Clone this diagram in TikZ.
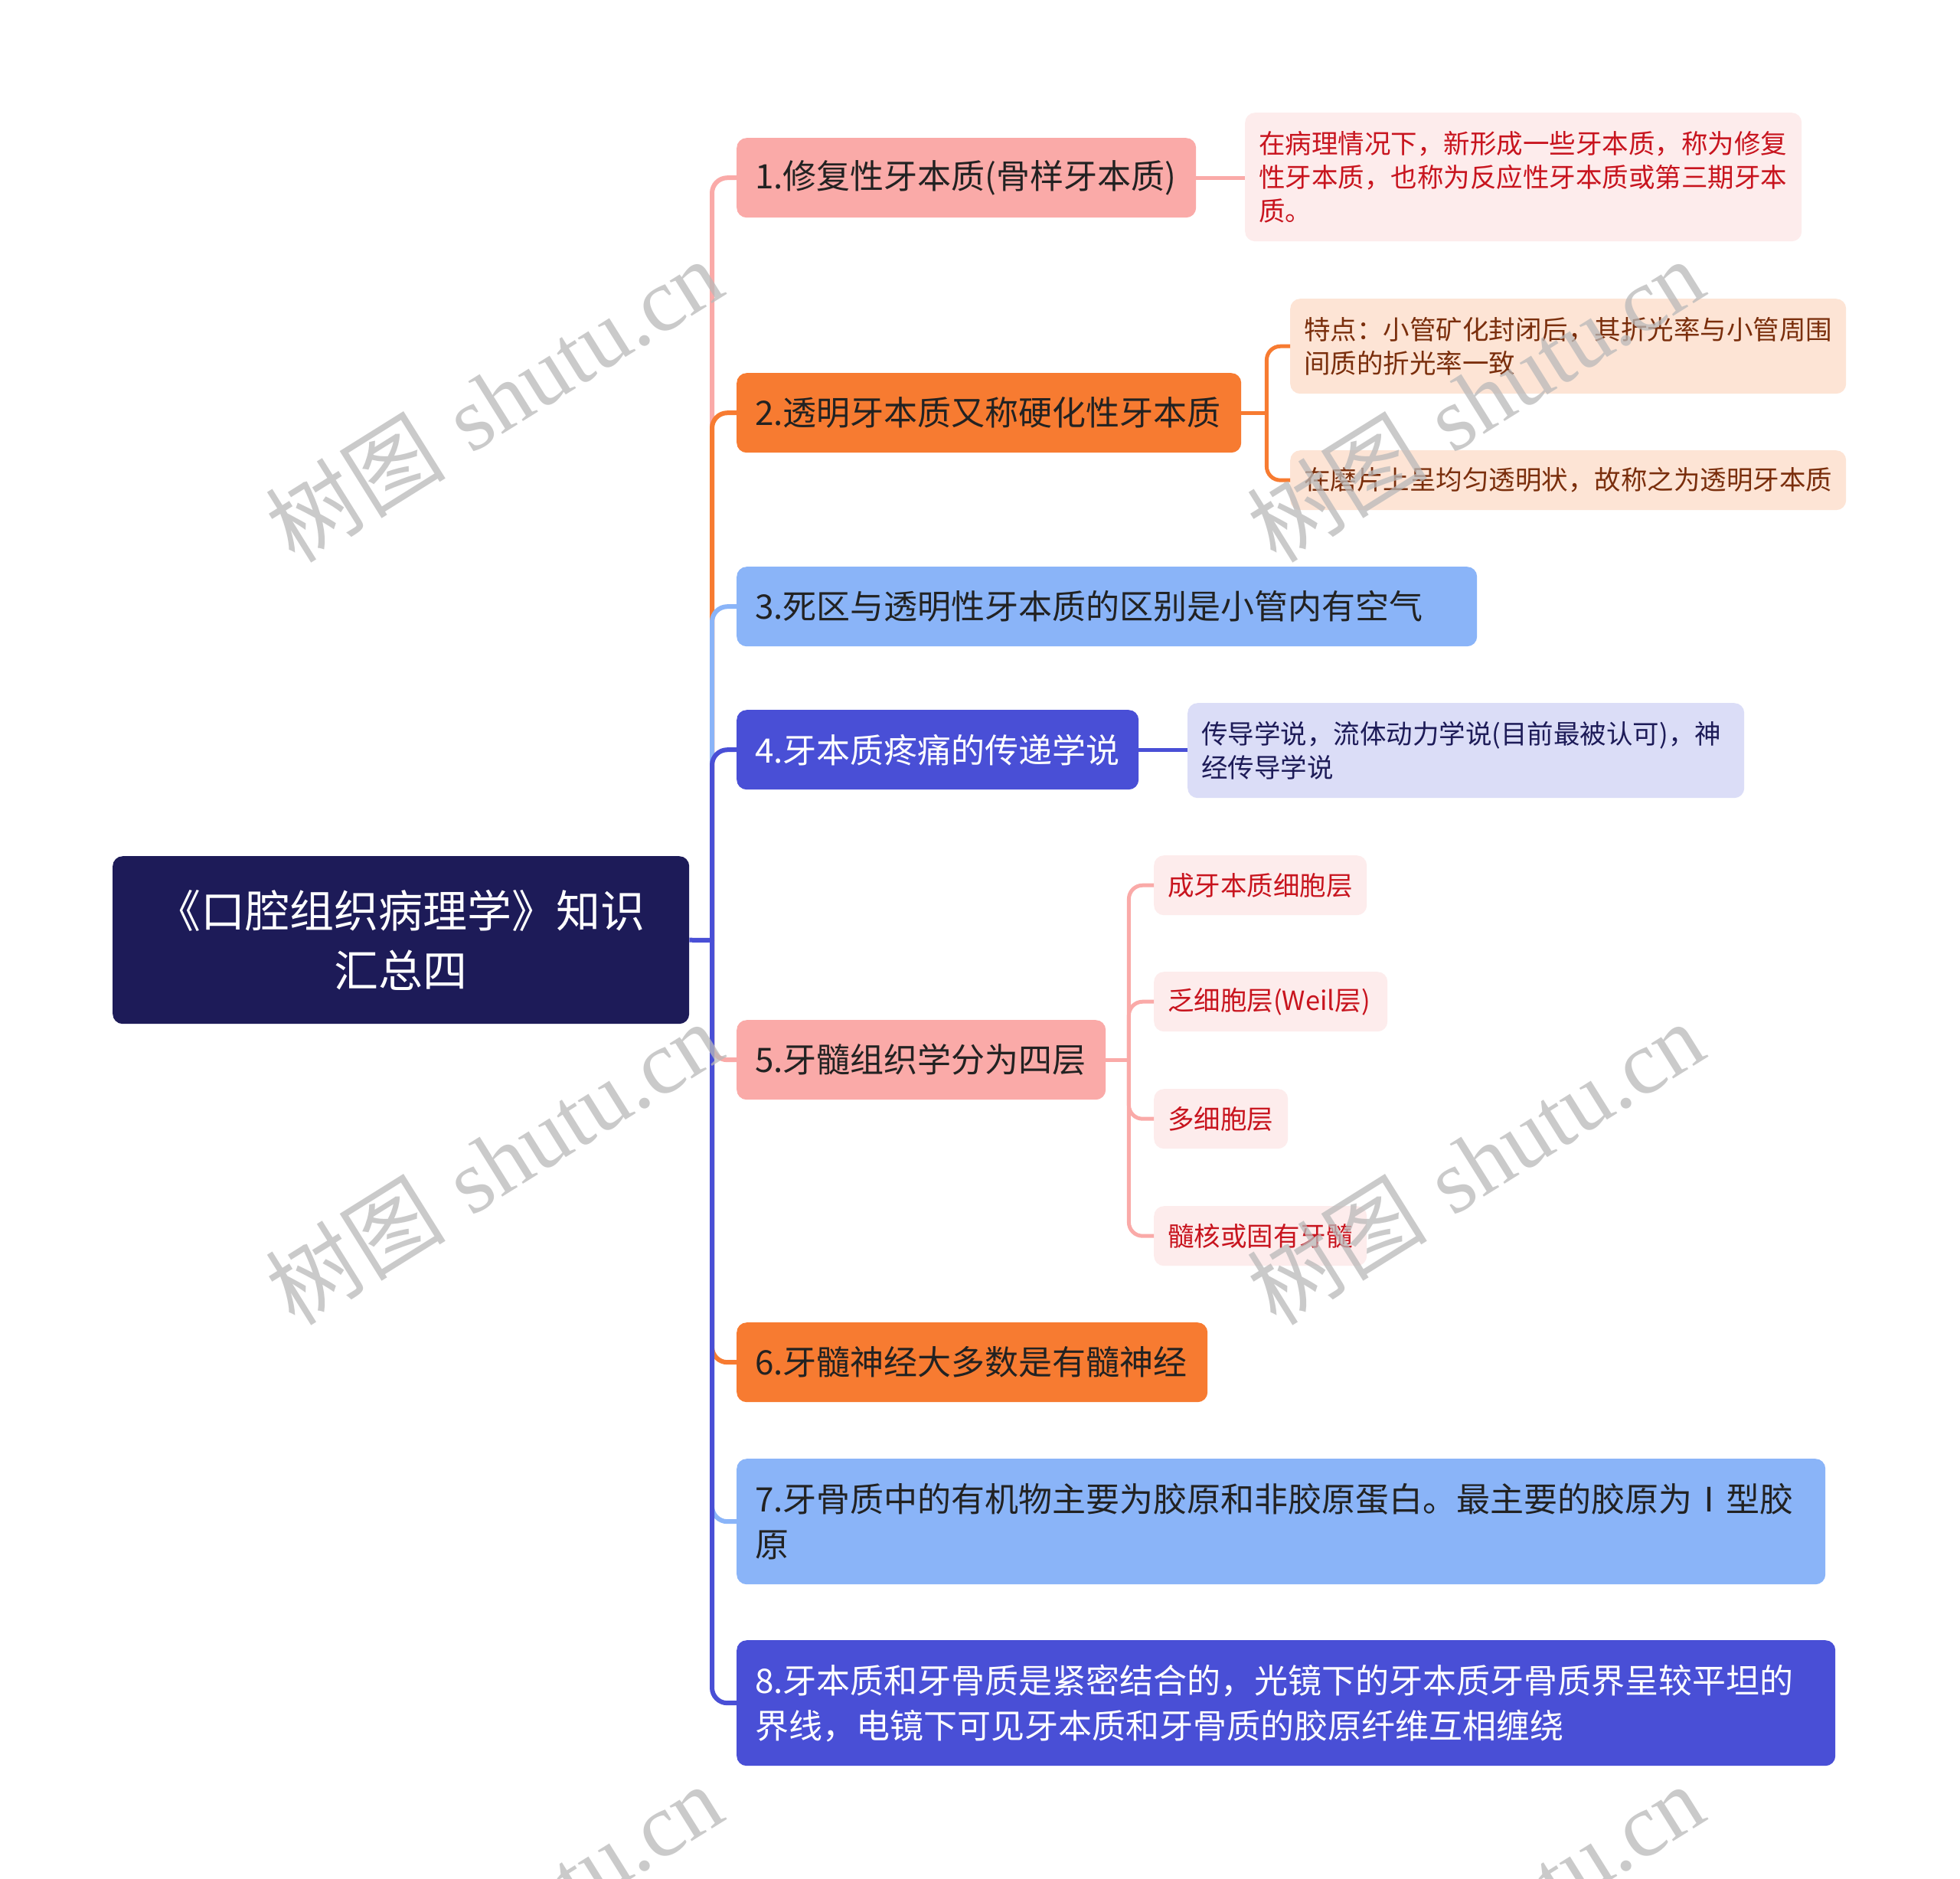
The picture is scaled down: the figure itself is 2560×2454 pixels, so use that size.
\documentclass[tikz,border=0pt]{standalone}
\usepackage{fontspec}
\setmainfont{Noto Sans CJK SC}
\newfontfamily\wmserif{Liberation Serif}
\newfontfamily\wmcjk{Noto Sans CJK SC}
\definecolor{rootbg}{RGB}{29,27,88}
\definecolor{pinkc}{RGB}{250,170,168}
\definecolor{orangec}{RGB}{247,123,49}
\definecolor{lbluec}{RGB}{138,180,248}
\definecolor{rbluec}{RGB}{73,79,214}
\definecolor{pinkbg}{RGB}{253,236,236}
\definecolor{redtxt}{RGB}{200,20,30}
\definecolor{peachbg}{RGB}{253,228,213}
\definecolor{browntxt}{RGB}{122,46,12}
\definecolor{lavbg}{RGB}{219,221,247}
\definecolor{navytxt}{RGB}{29,27,88}
\definecolor{darktxt}{RGB}{34,34,34}
\definecolor{wmgray}{RGB}{185,185,185}
\tikzset{
  box/.style={rectangle, rounded corners=13pt, anchor=north west, inner sep=0pt, draw=none},
  lvone/.style={font=\fontsize{44}{59}\selectfont, anchor=west, inner sep=0pt, align=left},
  lvtwo/.style={font=\fontsize{34.5}{44}\selectfont, anchor=west, inner sep=0pt, align=left},
  roottext/.style={font=\fontsize{58}{78}\selectfont, inner sep=0pt, align=center, text=white},
  link/.style={line width=6pt, rounded corners=20pt},
  sublink/.style={line width=5pt, rounded corners=18pt},
  wm/.style={rotate=32, text=wmgray, opacity=0.75, inner sep=0pt, font=\fontsize{118}{118}\selectfont}
}
\begin{document}
\begin{tikzpicture}[x=1pt,y=-1pt]
\path[use as bounding box] (0,0) rectangle (2560,2454);
\clip (0,0) rectangle (2560,2454);
\fill[white] (0,0) rectangle (2560,2454);

% root
\node[box, fill=rootbg, minimum width=753pt, minimum height=219pt] (root) at (147,1118) {};
\node[roottext] (roott) at (root.center) {《口腔组织病理学》知识\\汇总四};

% level one boxes
\node[box, fill=pinkc, minimum width=600pt, minimum height=104pt] (n1) at (962,180) {};
\node[box, fill=orangec, minimum width=659pt, minimum height=104pt] (n2) at (962,487) {};
\node[box, fill=lbluec, minimum width=967pt, minimum height=104pt] (n3) at (962,740) {};
\node[box, fill=rbluec, minimum width=525pt, minimum height=104pt] (n4) at (962,927) {};
\node[box, fill=pinkc, minimum width=482pt, minimum height=104pt] (n5) at (962,1332) {};
\node[box, fill=orangec, minimum width=615pt, minimum height=104pt] (n6) at (962,1727) {};
\node[box, fill=lbluec, minimum width=1422pt, minimum height=164pt] (n7) at (962,1905) {};
\node[box, fill=rbluec, minimum width=1435pt, minimum height=164pt] (n8) at (962,2142) {};

% level two boxes
\node[box, fill=pinkbg, minimum width=727pt, minimum height=168pt] (c1) at (1626,147) {};
\node[box, fill=peachbg, minimum width=726pt, minimum height=124pt] (c2a) at (1685,390) {};
\node[box, fill=peachbg, minimum width=726pt, minimum height=78pt] (c2b) at (1685,588) {};
\node[box, fill=lavbg, minimum width=727pt, minimum height=124pt] (c4) at (1551,918) {};
\node[box, fill=pinkbg, minimum width=278pt, minimum height=78pt] (c5a) at (1507,1117) {};
\node[box, fill=pinkbg, minimum width=305pt, minimum height=78pt] (c5b) at (1507,1269) {};
\node[box, fill=pinkbg, minimum width=175pt, minimum height=78pt] (c5c) at (1507,1422) {};
\node[box, fill=pinkbg, minimum width=278pt, minimum height=78pt] (c5d) at (1507,1575) {};

% trunk connectors
\coordinate (J) at (930,1228);
\draw[link, pinkc] (J) |- (n1.west);
\draw[link, orangec] (J) |- (n2.west);
\draw[link, lbluec] (J) |- (n3.west);
\draw[link, rbluec] (J) |- (n4.west);
\draw[link, pinkc] (J) |- (n5.west);
\draw[link, orangec] (J) |- (n6.west);
\draw[link, lbluec] (J) |- (n7.west);
\draw[link, rbluec] (J) |- (n8.west);
\draw[link, rbluec] (root.east) -- (J);

% sub connectors
\draw[sublink, pinkc] (n1.east) -- (n1.east -| c1.west);
\coordinate (J2) at ([xshift=33pt]n2.east);
\draw[sublink, orangec] (n2.east) -- (J2);
\draw[sublink, orangec] (J2) |- (c2a.west);
\draw[sublink, orangec] (J2) |- (c2b.west);
\draw[sublink, rbluec] (n4.east) -- (n4.east -| c4.west);
\coordinate (J5) at ([xshift=30pt]n5.east);
\draw[sublink, pinkc] (n5.east) -- (J5);
\draw[sublink, pinkc] (J5) |- (c5a.west);
\draw[sublink, pinkc] (J5) |- (c5b.west);
\draw[sublink, pinkc] (J5) |- (c5c.west);
\draw[sublink, pinkc] (J5) |- (c5d.west);

% level one texts
\node[lvone, text=darktxt] (n1t) at ([xshift=24pt]n1.west) {1.修复性牙本质(骨样牙本质)};
\node[lvone, text=darktxt] (n2t) at ([xshift=24pt]n2.west) {2.透明牙本质又称硬化性牙本质};
\node[lvone, text=darktxt] (n3t) at ([xshift=24pt]n3.west) {3.死区与透明性牙本质的区别是小管内有空气};
\node[lvone, text=white] (n4t) at ([xshift=24pt]n4.west) {4.牙本质疼痛的传递学说};
\node[lvone, text=darktxt] (n5t) at ([xshift=24pt]n5.west) {5.牙髓组织学分为四层};
\node[lvone, text=darktxt] (n6t) at ([xshift=24pt]n6.west) {6.牙髓神经大多数是有髓神经};
\node[lvone, text=darktxt] (n7t) at ([xshift=24pt]n7.west) {7.牙骨质中的有机物主要为胶原和非胶原蛋白。最主要的胶原为Ⅰ型胶\\原};
\node[lvone, text=white] (n8t) at ([xshift=24pt]n8.west) {8.牙本质和牙骨质是紧密结合的，光镜下的牙本质牙骨质界呈较平坦的\\界线，电镜下可见牙本质和牙骨质的胶原纤维互相缠绕};

% level two texts
\node[lvtwo, text=redtxt] (c1t) at ([xshift=18pt]c1.west) {在病理情况下，新形成一些牙本质，称为修复\\性牙本质，也称为反应性牙本质或第三期牙本\\质。};
\node[lvtwo, text=browntxt] (c2at) at ([xshift=18pt]c2a.west) {特点：小管矿化封闭后，其折光率与小管周围\\间质的折光率一致};
\node[lvtwo, text=browntxt] (c2bt) at ([xshift=18pt]c2b.west) {在磨片上呈均匀透明状，故称之为透明牙本质};
\node[lvtwo, text=navytxt] (c4t) at ([xshift=18pt]c4.west) {传导学说，流体动力学说(目前最被认可)，神\\经传导学说};
\node[lvtwo, text=redtxt] (c5at) at ([xshift=18pt]c5a.west) {成牙本质细胞层};
\node[lvtwo, text=redtxt] (c5bt) at ([xshift=18pt]c5b.west) {乏细胞层(Weil层)};
\node[lvtwo, text=redtxt] (c5ct) at ([xshift=18pt]c5c.west) {多细胞层};
\node[lvtwo, text=redtxt] (c5dt) at ([xshift=18pt]c5d.west) {髓核或固有牙髓};

% watermarks
\node[wm] (w1) at (645,522) {{\wmcjk 树图}\hspace{0.3em}{\wmserif shutu.cn}};
\node[wm] (w2) at (645,1518) {{\wmcjk 树图}\hspace{0.3em}{\wmserif shutu.cn}};
\node[wm] (w3) at (1927,522) {{\wmcjk 树图}\hspace{0.3em}{\wmserif shutu.cn}};
\node[wm] (w4) at (1927,1518) {{\wmcjk 树图}\hspace{0.3em}{\wmserif shutu.cn}};
\node[wm] (w5) at (645,2514) {{\wmcjk 树图}\hspace{0.3em}{\wmserif shutu.cn}};
\node[wm] (w6) at (1927,2514) {{\wmcjk 树图}\hspace{0.3em}{\wmserif shutu.cn}};
\end{tikzpicture}
\end{document}
